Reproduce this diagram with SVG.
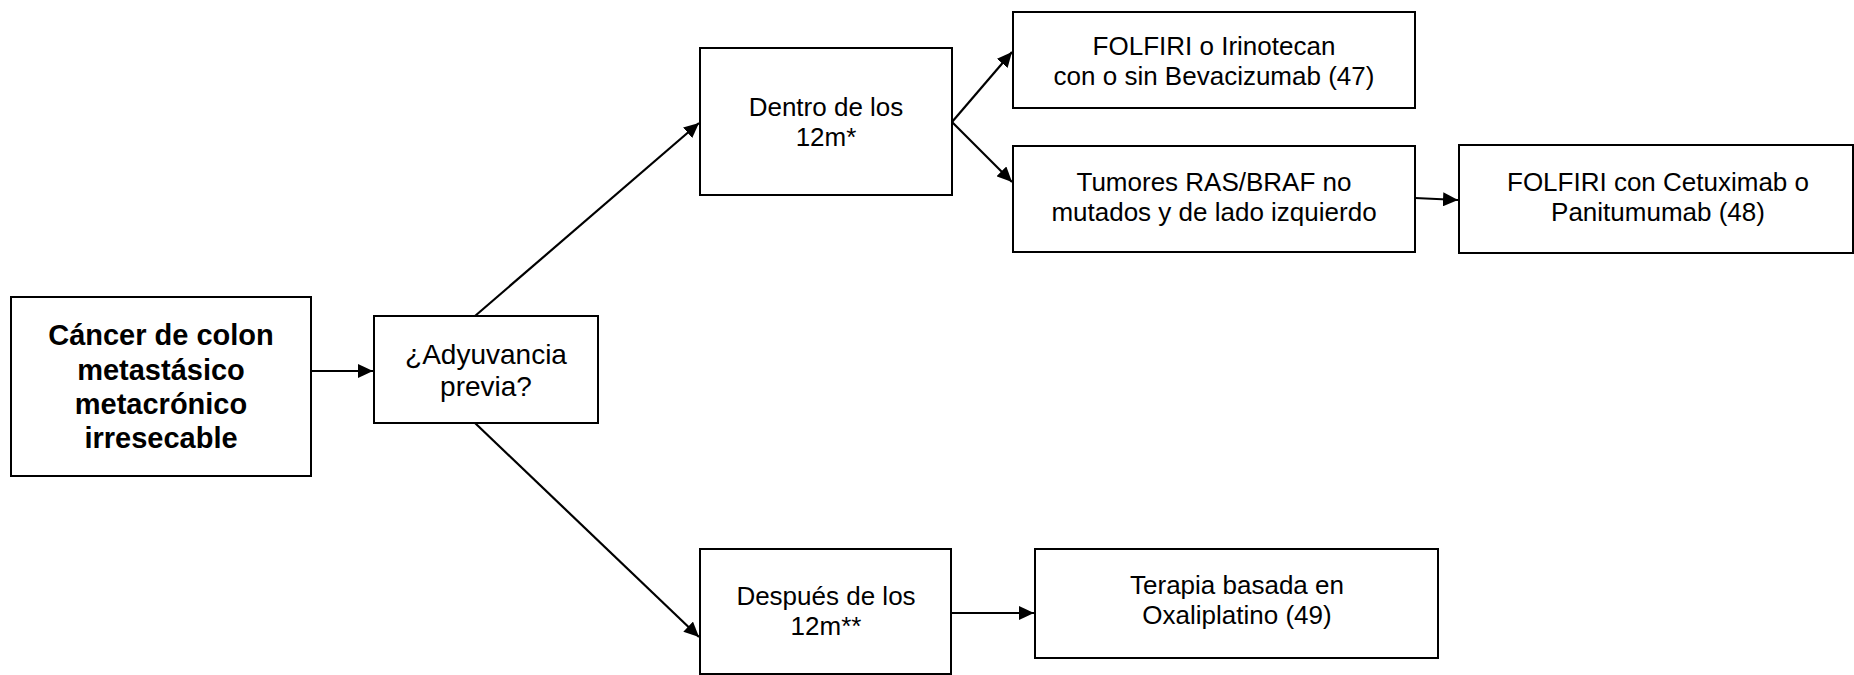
<svg xmlns="http://www.w3.org/2000/svg" width="1854" height="675" viewBox="0 0 1854 675">
<style>
.box{fill:#fff;stroke:#000;stroke-width:2}
.t{font-family:"Liberation Sans",Arial,sans-serif;font-size:26px;fill:#000;text-anchor:middle}
.b{font-weight:bold;font-size:29px}
.l{font-size:28px}
.c{stroke:#000;stroke-width:2.2;fill:none;marker-end:url(#ah)}
</style>
<defs>
<marker id="ah" markerUnits="userSpaceOnUse" markerWidth="16" markerHeight="14" refX="15" refY="7" orient="auto">
<path d="M0,0 L15,7 L0,14 z" fill="#000"/>
</marker>
</defs>
<rect width="1854" height="675" fill="#fff"/>
<g id="connectors">
<line class="c" x1="311" y1="371" x2="373" y2="371"/>
<line class="c" x1="475" y1="316" x2="699" y2="123"/>
<line class="c" x1="475" y1="423" x2="699" y2="637"/>
<line class="c" x1="952" y1="122" x2="1012" y2="52"/>
<line class="c" x1="952" y1="122" x2="1012" y2="182"/>
<line class="c" x1="1415" y1="198" x2="1458" y2="200"/>
<line class="c" x1="951" y1="613" x2="1034" y2="613"/>
</g>
<g id="n-main">
<rect class="box" x="11" y="297" width="300" height="179"/>
<text class="t b" x="161" y="345">Cáncer de colon</text>
<text class="t b" x="161" y="380">metastásico</text>
<text class="t b" x="161" y="414">metacrónico</text>
<text class="t b" x="161" y="448">irresecable</text>
</g>
<g id="n-adyuvancia">
<rect class="box" x="374" y="316" width="224" height="107"/>
<text class="t l" x="486" y="364">¿Adyuvancia</text>
<text class="t l" x="486" y="396">previa?</text>
</g>
<g id="n-dentro">
<rect class="box" x="700" y="48" width="252" height="147"/>
<text class="t" x="826" y="116">Dentro de los</text>
<text class="t" x="826" y="146">12m*</text>
</g>
<g id="n-folfiri">
<rect class="box" x="1013" y="12" width="402" height="96"/>
<text class="t" x="1214" y="55">FOLFIRI o Irinotecan</text>
<text class="t" x="1214" y="85">con o sin Bevacizumab (47)</text>
</g>
<g id="n-tumores">
<rect class="box" x="1013" y="146" width="402" height="106"/>
<text class="t" x="1214" y="191">Tumores RAS/BRAF no</text>
<text class="t" x="1214" y="221">mutados y de lado izquierdo</text>
</g>
<g id="n-cetux">
<rect class="box" x="1459" y="145" width="394" height="108"/>
<text class="t" x="1658" y="191">FOLFIRI con Cetuximab o</text>
<text class="t" x="1658" y="221">Panitumumab (48)</text>
</g>
<g id="n-despues">
<rect class="box" x="700" y="549" width="251" height="125"/>
<text class="t" x="826" y="605">Después de los</text>
<text class="t" x="826" y="635">12m**</text>
</g>
<g id="n-terapia">
<rect class="box" x="1035" y="549" width="403" height="109"/>
<text class="t" x="1237" y="594">Terapia basada en</text>
<text class="t" x="1237" y="624">Oxaliplatino (49)</text>
</g>
</svg>
